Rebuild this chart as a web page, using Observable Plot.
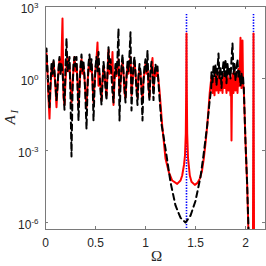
<!DOCTYPE html>
<html><head><meta charset="utf-8">
<script src="https://cdn.jsdelivr.net/npm/d3@7"></script>
<script src="https://cdn.jsdelivr.net/npm/@observablehq/plot@0.6"></script>
<style>html,body{margin:0;padding:0;background:#fff;} svg{display:block}</style>
</head><body><div id="chart"></div>
<script>
// sample grid of the low-frequency band (Omega from 0 to 1.13)
const omegaStart = 0, omegaStep = 0.01;
// log10(A_I), black dashed curve, low band
const blackLow = [
  0.3, 1.25, 0.4, -0.6, -1.2, -0.2, 0.6, 0.2, 0.8, 0.3,
  -0.3, -0.9, -0.4, 0.4, 0.9, 0.2, 0.6, 0.3, -0.5, -1.3,
  0.5, 1.67, 0.3, 0.6, 0.9, -0.8, -3.25, -0.6, 0.6, 0.9,
  0.5, 0.9, -0.3, -1.75, -0.4, 0.5, 1.0, 0.3, 0.7, 0.1,
  -0.9, -2.1, -0.5, 0.6, 1.0, 0.4, 0.8, 0.0, -1.75, -0.5,
  0.5, 0.9, 0.3, 1.1, 0.2, -0.5, -1.1, -0.2, 0.7, 0.3,
  -0.4, -0.9, 0.2, 1.3, 0.4, 0.8, 0.1, -0.6, -1.0, 0.1,
  0.6, 0.2, 0.9, 2.08, -1.75, -0.3, 0.5, 1.0, 0.3, -0.4,
  -1.0, 0.0, 0.7, 0.3, 1.0, 1.93, -1.33, -0.2, 0.6, 0.9,
  0.2, -0.5, -1.1, 0.1, 0.6, 0.3, -0.6, -1.75, -0.1, 0.5,
  0.8, 0.3, 1.17, -0.4, -0.9, 0.3, 0.7, 0.2, -0.9, 0.1,
  0.6, 0.3, 0.5, -0.2
];
// log10(A_I), red curve, low band
const redLow = [
  0.5, 1.04, 0.2, -0.8, -1.67, -0.4, 0.4, 0.1, 0.7, 0.2,
  -0.4, -1.2, -0.3, 0.3, 0.8, 0.2, 0.9, 2.5, -0.8, -1.1,
  -0.1, 0.5, 0.9, 0.3, 0.6, -0.2, -1.0, -0.3, 0.4, 0.9,
  0.3, 0.6, -0.1, -1.1, -0.3, 0.4, 0.8, 0.2, 0.5, 0.0,
  -0.6, -1.2, -0.2, 0.4, 0.8, 0.3, 0.6, -0.2, -1.0, -0.2,
  0.4, 0.8, 1.5, -0.3, 0.2, -0.3, -0.9, -0.1, 0.5, 0.2,
  -0.3, -0.7, 0.2, 1.2, 0.2, 0.6, 0.2, 1.1, -1.1, -0.1,
  0.4, 0.1, 0.5, 0.8, -0.6, -0.2, 0.4, 0.7, 0.2, -0.6,
  -0.8, 0.1, 0.5, 0.2, 0.6, 0.9, -0.7, -0.1, 0.4, 0.7,
  0.2, -0.3, -0.8, 0.0, 0.4, 0.2, -0.4, -0.9, -0.1, 0.3,
  0.6, 0.2, 0.5, -0.3, -0.8, 0.2, 0.5, 0.85, -0.5, 0.1,
  0.4, 0.1, 0.3, -0.1
];
// [Omega, log10 A_I] for the anti-resonance valley and the upper band
const blackRest = [
  [1.14,-0.8],[1.16,-1.9],[1.18,-2.4],[1.20,-2.92],[1.25,-4.32],[1.30,-5.29],
  [1.35,-5.8],[1.40,-6.0],[1.45,-5.71],[1.50,-5.1],[1.55,-4.1],[1.58,-3.2],
  [1.617,-1.96],[1.64,-1.0],[1.657,-0.42],
  [1.66,0.3],[1.67,-0.2],[1.68,0.5],[1.69,0.1],[1.70,0.6],[1.71,-0.3],[1.72,0.4],
  [1.73,1.04],[1.74,0.0],[1.75,0.5],[1.76,-0.4],[1.77,0.3],[1.78,0.7],[1.79,0.1],
  [1.80,0.8],[1.81,-0.2],[1.82,0.6],[1.83,0.2],[1.84,0.4],[1.85,0.0],[1.86,0.8],
  [1.87,1.46],[1.88,0.2],[1.89,0.6],[1.90,-0.1],[1.91,0.4],[1.92,0.8],[1.93,0.0],
  [1.94,0.3],[1.95,-0.3],[1.96,0.2],[1.97,-0.2],[1.975,0.1],
  [1.983,-0.42],[2.00,-2.65],[2.017,-4.46],[2.03,-6.3],[2.04,-7.5]
];
const redRest = [
  [1.14,-0.5],[1.167,-1.96],[1.20,-3.33],[1.233,-3.9],[1.267,-4.25],[1.317,-4.39],
  [1.35,-4.25],[1.367,-4.04],[1.385,-3.6],[1.395,-3.2],[1.403,-2.3],[1.407,-0.5],
  [1.41,1.875],[1.413,-0.5],[1.417,-2.3],[1.425,-3.3],[1.443,-4.04],[1.46,-4.3],
  [1.493,-4.43],[1.52,-4.35],[1.543,-4.17],[1.565,-3.85],[1.583,-3.33],[1.60,-2.7],
  [1.617,-1.96],[1.63,-1.3],[1.643,-0.57],
  [1.65,-0.3],[1.66,0.1],[1.67,-0.6],[1.68,0.0],[1.69,-0.7],[1.70,0.2],[1.71,-0.5],
  [1.72,0.1],[1.73,-0.6],[1.74,0.3],[1.75,-0.5],[1.76,0.0],[1.77,-0.6],[1.78,0.2],
  [1.79,-0.4],[1.80,0.1],[1.81,-0.6],[1.82,0.2],[1.83,-0.5],[1.84,0.0],[1.85,-0.7],
  [1.855,0.0],[1.86,-2.58],[1.865,-0.3],[1.87,0.2],[1.88,-0.6],[1.89,0.3],[1.90,-0.5],
  [1.91,0.1],[1.92,-0.6],[1.93,0.4],[1.94,-0.3],[1.95,1.7],[1.96,-0.4],[1.97,1.58],
  [1.975,-0.2],[1.983,-0.42],[2.00,-2.65],[2.017,-4.46],[2.03,-6.5],[2.06,-8],
  [2.075,-6.5],[2.08,1.875],[2.085,-6.5],[2.2,-8]
];
const resonances = [1.41, 2.08];      // blue dotted markers
const resonanceTopLog = 2.67;
const xTicks = [0, 0.5, 1, 1.5, 2];
const yTickExps = [3, 0, -3, -6];
const yLogMin = -6.29, yLogMax = 3;

const lowPts = (arr) => arr.map((v, i) => ({x: omegaStart + i * omegaStep, y: Math.pow(10, v)}));
const restPts = (arr) => arr.map(([x, v]) => ({x, y: Math.pow(10, v)}));
const black = lowPts(blackLow).concat(restPts(blackRest));
const red = lowPts(redLow).concat(restPts(redRest));
const yTicks = yTickExps.map(e => Math.pow(10, e));
const yMin = Math.pow(10, yLogMin), yMax = Math.pow(10, yLogMax);
const axisGray = "#7a7a7a";

const chart = Plot.plot({
  width: 266, height: 266,
  marginTop: 6, marginRight: 1, marginBottom: 37, marginLeft: 45,
  style: {fontFamily: "'Liberation Sans', Arial, Helvetica, sans-serif", fontSize: "12px", background: "#fff", color: "#262626"},
  x: {domain: [0, 2.2]},
  y: {type: "log", domain: [yMin, yMax]},
  marks: [
    Plot.ruleX(resonances, {x: d => d, y1: Math.pow(10, resonanceTopLog), y2: yMin, stroke: "#0000ff", strokeWidth: 1.6, strokeDasharray: "1.4,1.4"}),
    Plot.line(red, {x: "x", y: "y", stroke: "#ff0000", strokeWidth: 2, clip: true}),
    Plot.line(black, {x: "x", y: "y", stroke: "#000000", strokeWidth: 2, strokeDasharray: "6,4", clip: true}),
    Plot.frame({stroke: axisGray}),
    Plot.tickX(xTicks, {x: d => d, insetTop: 220, stroke: axisGray}),
    Plot.tickX(xTicks, {x: d => d, insetBottom: 220, stroke: axisGray}),
    Plot.tickY(yTicks, {y: d => d, insetRight: 217, stroke: axisGray}),
    Plot.tickY(yTicks, {y: d => d, insetLeft: 217, stroke: axisGray}),
    Plot.axisX({ticks: xTicks, tickSize: 0, tickPadding: 9, tickFormat: d => String(d), fontSize: 12, label: null}),
    Plot.axisY({ticks: yTicks, tickSize: 0, tickPadding: 7, dy: 2.5, tickFormat: d => String(Math.round(Math.log10(d))), fontSize: 12, label: null}),
    Plot.text(["Ω"], {frameAnchor: "bottom", text: d => d, dx: 1, dy: 31, fontSize: 15, fontFamily: "'Liberation Serif', 'Times New Roman', serif", fill: "#262626"}),
    Plot.text(["A"], {frameAnchor: "left", text: d => d, rotate: -90, dx: -35, dy: 6.5, fontSize: 15, fontStyle: "italic", fontFamily: "'Liberation Serif', 'Times New Roman', serif", fill: "#262626"}),
    Plot.text(["I"], {frameAnchor: "left", text: d => d, rotate: -90, dx: -31, dy: -4.5, fontSize: 10.5, fontStyle: "italic", fontFamily: "'Liberation Serif', 'Times New Roman', serif", fill: "#262626"})
  ]
});

// power-of-ten tick labels: "10" with a raised exponent
const ns = "http://www.w3.org/2000/svg";
chart.querySelectorAll('g[aria-label="y-axis tick label"] text').forEach(t => {
  const e = t.textContent;
  t.textContent = "";
  const base = document.createElementNS(ns, "tspan");
  base.textContent = "10";
  const sup = document.createElementNS(ns, "tspan");
  sup.textContent = e;
  sup.setAttribute("dy", "-5");
  sup.setAttribute("font-size", "8");
  t.append(base, sup);
});
document.getElementById("chart").append(chart);
</script>
</body></html>
